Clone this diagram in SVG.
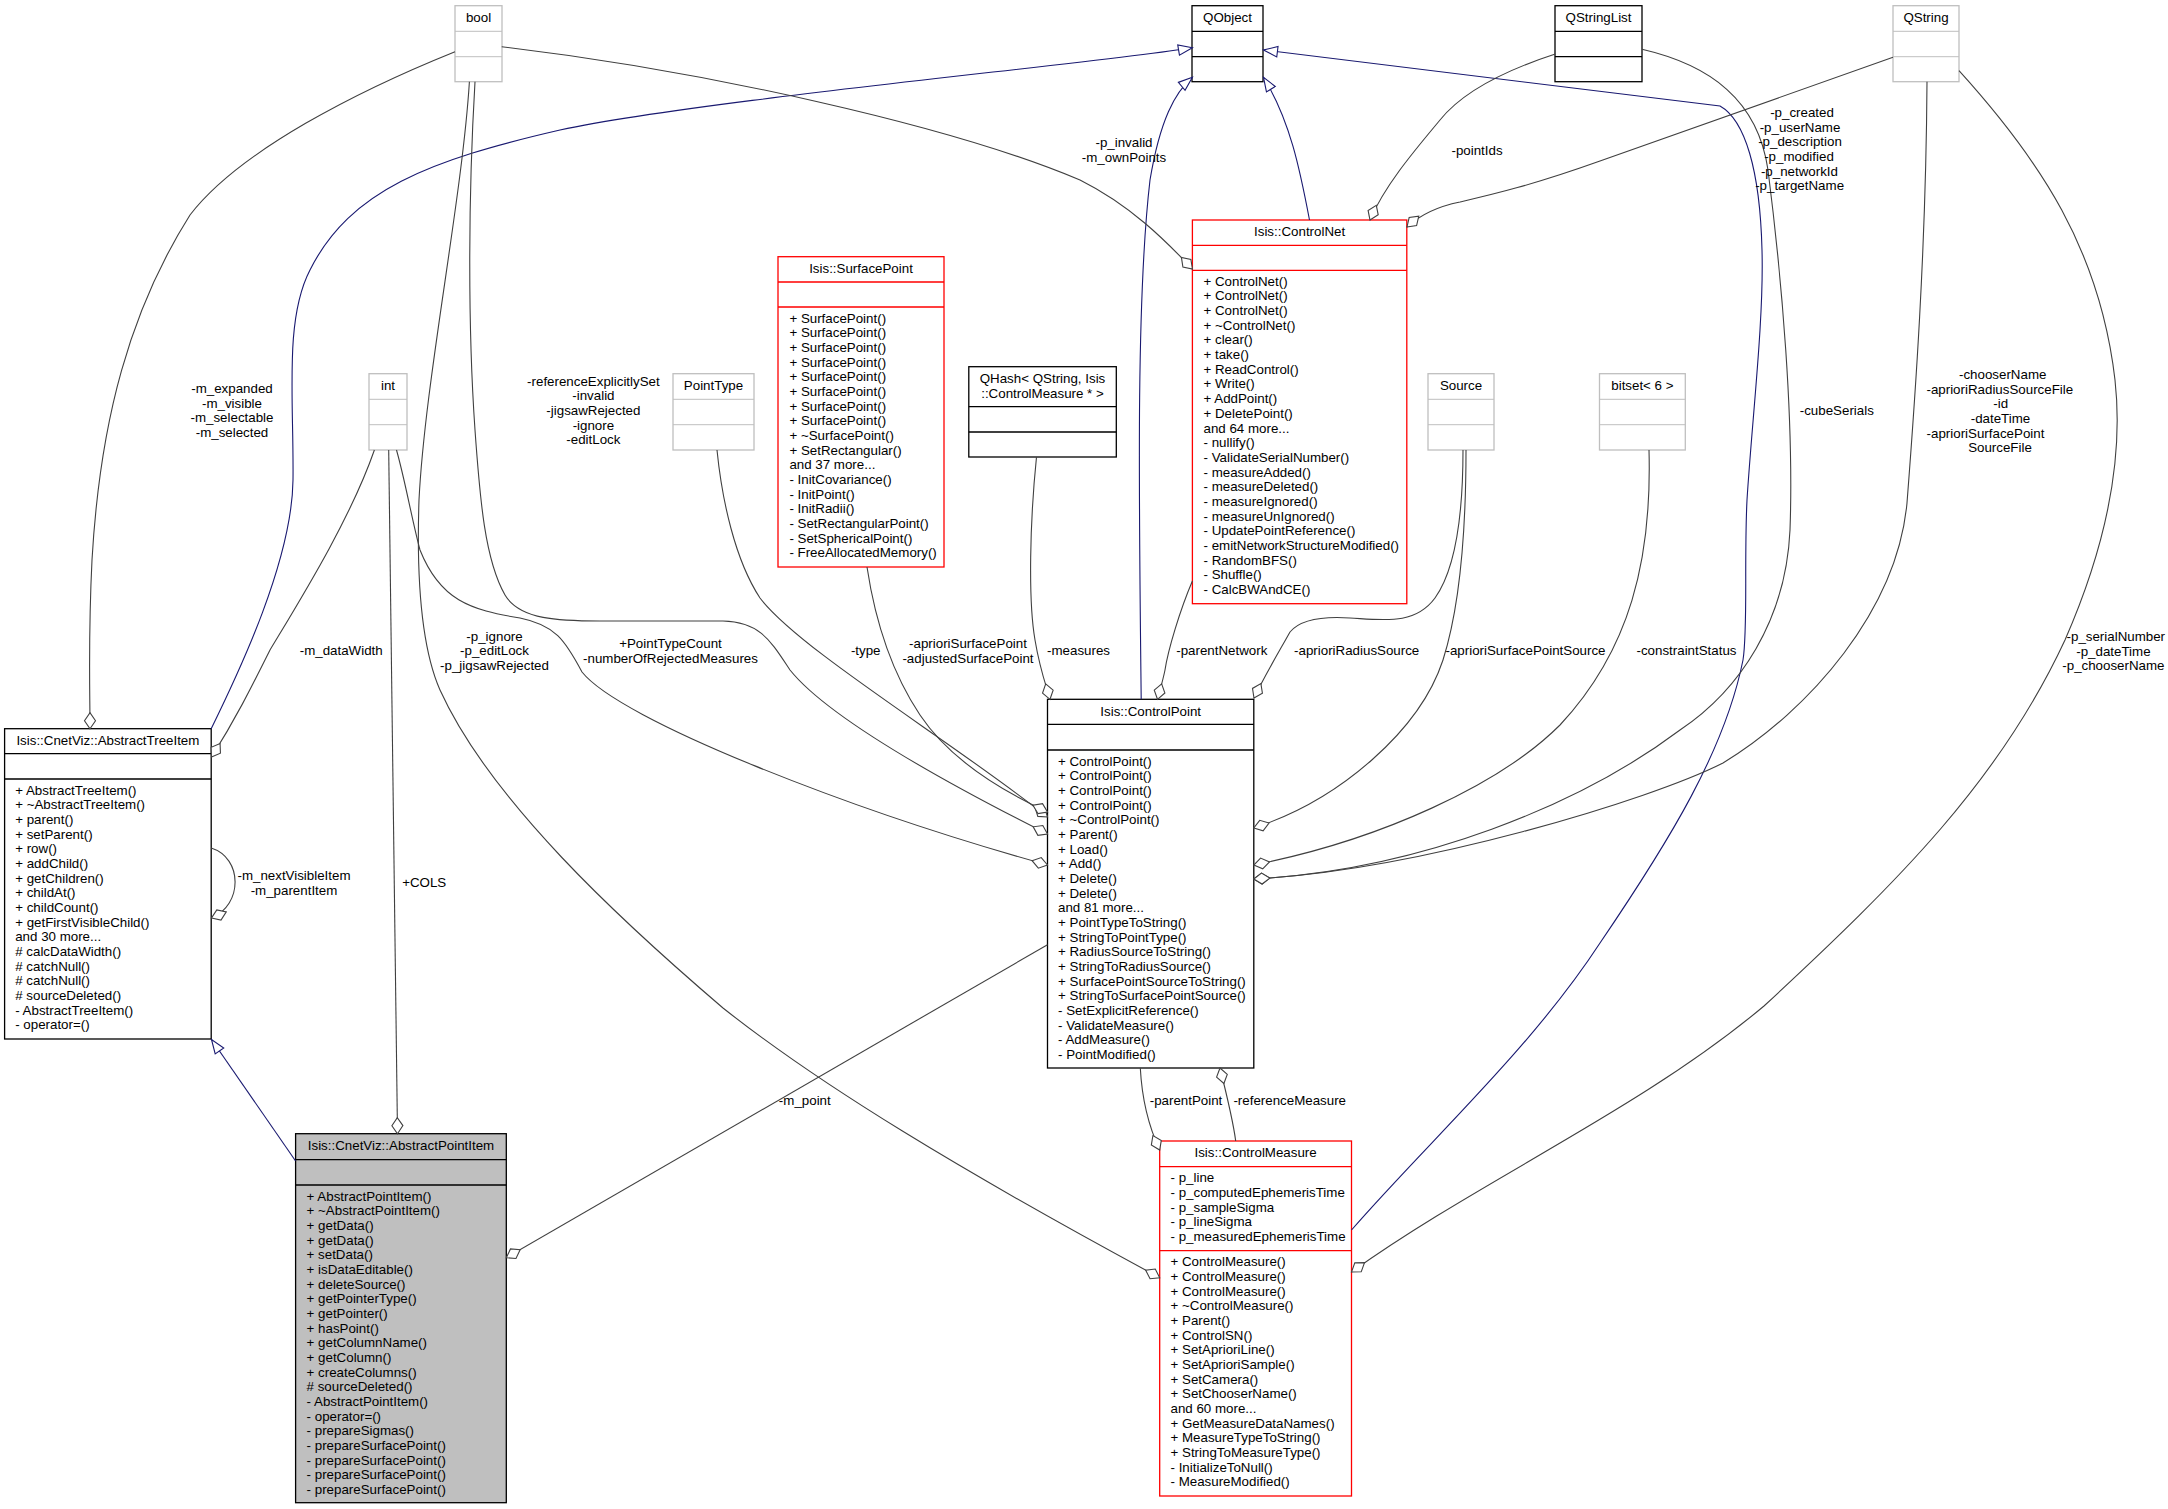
<svg xmlns="http://www.w3.org/2000/svg" width="2168" height="1509" viewBox="0 0 2168 1509">
<defs>
<style>
text{font-family:"Liberation Sans",Arial,Helvetica,sans-serif;font-size:13.33px;fill:#000}
.c{text-anchor:middle}
.box{fill:#fff;stroke-width:1.3}
.blk{stroke:#000}
.red{stroke:#ff0000}
.gry{stroke:#bfbfbf}
.hl{fill:#bfbfbf}
.e{fill:none;stroke:#404040;stroke-width:1.1;marker-end:url(#dia)}
.i{fill:none;stroke:#191970;stroke-width:1.1;marker-end:url(#tri)}
</style>
<marker id="dia" markerUnits="userSpaceOnUse" viewBox="0 0 20 14" markerWidth="20" markerHeight="14" refX="17" refY="7" orient="auto"><path d="M17,7 L9,1.5 L1,7 L9,12.5 Z" fill="#fff" stroke="#404040" stroke-width="1.1"/></marker>
<marker id="tri" markerUnits="userSpaceOnUse" viewBox="0 0 18 14" markerWidth="18" markerHeight="14" refX="15" refY="7" orient="auto"><path d="M15,7 L1,1.8 L1,12.2 Z" fill="#fff" stroke="#191970" stroke-width="1.1"/></marker>
</defs>
<rect width="2168" height="1509" fill="#fff"/>

<g id="nodes">
<g id="n_bool"><rect class="box gry" x="455" y="5.7" width="47" height="76"/><path class="gry" d="M455,31.3H502M455,56.7H502"/><text class="c" x="478.5" y="22">bool</text></g>
<g id="n_QObject"><rect class="box blk" x="1192" y="5.7" width="71" height="76"/><path class="blk" stroke-width="1.3" d="M1192,31.3H1263M1192,56.7H1263"/><text class="c" x="1227.5" y="22">QObject</text></g>
<g id="n_QStringList"><rect class="box blk" x="1555" y="5.7" width="87" height="76"/><path class="blk" stroke-width="1.3" d="M1555,31.3H1642M1555,56.7H1642"/><text class="c" x="1598.5" y="22">QStringList</text></g>
<g id="n_QString"><rect class="box gry" x="1893" y="5.7" width="66" height="76"/><path class="gry" d="M1893,31.3H1959M1893,56.7H1959"/><text class="c" x="1926" y="22">QString</text></g>
<g id="n_int"><rect class="box gry" x="369" y="373.7" width="38" height="76.3"/><path class="gry" d="M369,399.3H407M369,424.7H407"/><text class="c" x="388" y="390">int</text></g>
<g id="n_PointType"><rect class="box gry" x="673" y="373.7" width="81" height="76.3"/><path class="gry" d="M673,399.3H754M673,424.7H754"/><text class="c" x="713.5" y="390">PointType</text></g>
<g id="n_Source"><rect class="box gry" x="1428" y="373.7" width="66" height="76.3"/><path class="gry" d="M1428,399.3H1494M1428,424.7H1494"/><text class="c" x="1461" y="390">Source</text></g>
<g id="n_bitset"><rect class="box gry" x="1599.5" y="373.7" width="85.8" height="76.3"/><path class="gry" d="M1599.5,399.3H1685.3M1599.5,424.7H1685.3"/><text class="c" x="1642.4" y="390">bitset&lt; 6 &gt;</text></g>
<g id="n_QHash"><rect class="box blk" x="968.8" y="366.7" width="147.5" height="90.3"/><path class="blk" stroke-width="1.3" d="M968.8,406.7H1116.3M968.8,432H1116.3"/><text class="c" x="1042.5" y="382.8">QHash&lt; QString, Isis</text><text class="c" x="1042.5" y="397.5">::ControlMeasure * &gt;</text></g>

<g id="n_SurfacePoint"><rect class="box red" x="778" y="256.7" width="166" height="310.3"/><path class="red" stroke-width="1.3" d="M778,282H944M778,307H944"/><text class="c" x="861" y="273">Isis::SurfacePoint</text>
<text x="789.4" y="322.5"><tspan x="789.4">+ SurfacePoint()</tspan><tspan x="789.4" dy="14.67">+ SurfacePoint()</tspan><tspan x="789.4" dy="14.67">+ SurfacePoint()</tspan><tspan x="789.4" dy="14.67">+ SurfacePoint()</tspan><tspan x="789.4" dy="14.67">+ SurfacePoint()</tspan><tspan x="789.4" dy="14.67">+ SurfacePoint()</tspan><tspan x="789.4" dy="14.67">+ SurfacePoint()</tspan><tspan x="789.4" dy="14.67">+ SurfacePoint()</tspan><tspan x="789.4" dy="14.67">+ ~SurfacePoint()</tspan><tspan x="789.4" dy="14.67">+ SetRectangular()</tspan><tspan x="789.4" dy="14.67">and 37 more...</tspan><tspan x="789.4" dy="14.67">- InitCovariance()</tspan><tspan x="789.4" dy="14.67">- InitPoint()</tspan><tspan x="789.4" dy="14.67">- InitRadii()</tspan><tspan x="789.4" dy="14.67">- SetRectangularPoint()</tspan><tspan x="789.4" dy="14.67">- SetSphericalPoint()</tspan><tspan x="789.4" dy="14.67">- FreeAllocatedMemory()</tspan></text></g>

<g id="n_ControlNet"><rect class="box red" x="1192.4" y="220" width="214.4" height="383.7"/><path class="red" stroke-width="1.3" d="M1192.4,245.3H1406.8M1192.4,270.3H1406.8"/><text class="c" x="1299.6" y="236.3">Isis::ControlNet</text>
<text x="1203.5" y="285.8"><tspan x="1203.5">+ ControlNet()</tspan><tspan x="1203.5" dy="14.67">+ ControlNet()</tspan><tspan x="1203.5" dy="14.67">+ ControlNet()</tspan><tspan x="1203.5" dy="14.67">+ ~ControlNet()</tspan><tspan x="1203.5" dy="14.67">+ clear()</tspan><tspan x="1203.5" dy="14.67">+ take()</tspan><tspan x="1203.5" dy="14.67">+ ReadControl()</tspan><tspan x="1203.5" dy="14.67">+ Write()</tspan><tspan x="1203.5" dy="14.67">+ AddPoint()</tspan><tspan x="1203.5" dy="14.67">+ DeletePoint()</tspan><tspan x="1203.5" dy="14.67">and 64 more...</tspan><tspan x="1203.5" dy="14.67">- nullify()</tspan><tspan x="1203.5" dy="14.67">- ValidateSerialNumber()</tspan><tspan x="1203.5" dy="14.67">- measureAdded()</tspan><tspan x="1203.5" dy="14.67">- measureDeleted()</tspan><tspan x="1203.5" dy="14.67">- measureIgnored()</tspan><tspan x="1203.5" dy="14.67">- measureUnIgnored()</tspan><tspan x="1203.5" dy="14.67">- UpdatePointReference()</tspan><tspan x="1203.5" dy="14.67">- emitNetworkStructureModified()</tspan><tspan x="1203.5" dy="14.67">- RandomBFS()</tspan><tspan x="1203.5" dy="14.67">- Shuffle()</tspan><tspan x="1203.5" dy="14.67">- CalcBWAndCE()</tspan></text></g>

<g id="n_ControlPoint"><rect class="box blk" x="1047.5" y="699.3" width="206.3" height="368.7"/><path class="blk" stroke-width="1.3" d="M1047.5,724.3H1253.8M1047.5,750H1253.8"/><text class="c" x="1150.7" y="715.6">Isis::ControlPoint</text>
<text x="1058" y="765.5"><tspan x="1058">+ ControlPoint()</tspan><tspan x="1058" dy="14.67">+ ControlPoint()</tspan><tspan x="1058" dy="14.67">+ ControlPoint()</tspan><tspan x="1058" dy="14.67">+ ControlPoint()</tspan><tspan x="1058" dy="14.67">+ ~ControlPoint()</tspan><tspan x="1058" dy="14.67">+ Parent()</tspan><tspan x="1058" dy="14.67">+ Load()</tspan><tspan x="1058" dy="14.67">+ Add()</tspan><tspan x="1058" dy="14.67">+ Delete()</tspan><tspan x="1058" dy="14.67">+ Delete()</tspan><tspan x="1058" dy="14.67">and 81 more...</tspan><tspan x="1058" dy="14.67">+ PointTypeToString()</tspan><tspan x="1058" dy="14.67">+ StringToPointType()</tspan><tspan x="1058" dy="14.67">+ RadiusSourceToString()</tspan><tspan x="1058" dy="14.67">+ StringToRadiusSource()</tspan><tspan x="1058" dy="14.67">+ SurfacePointSourceToString()</tspan><tspan x="1058" dy="14.67">+ StringToSurfacePointSource()</tspan><tspan x="1058" dy="14.67">- SetExplicitReference()</tspan><tspan x="1058" dy="14.67">- ValidateMeasure()</tspan><tspan x="1058" dy="14.67">- AddMeasure()</tspan><tspan x="1058" dy="14.67">- PointModified()</tspan></text></g>

<g id="n_ControlMeasure"><rect class="box red" x="1159.7" y="1141" width="191.8" height="355"/><path class="red" stroke-width="1.3" d="M1159.7,1166.7H1351.5M1159.7,1250.7H1351.5"/><text class="c" x="1255.6" y="1157.3">Isis::ControlMeasure</text>
<text x="1170.5" y="1182.2"><tspan x="1170.5">- p_line</tspan><tspan x="1170.5" dy="14.67">- p_computedEphemerisTime</tspan><tspan x="1170.5" dy="14.67">- p_sampleSigma</tspan><tspan x="1170.5" dy="14.67">- p_lineSigma</tspan><tspan x="1170.5" dy="14.67">- p_measuredEphemerisTime</tspan></text>
<text x="1170.5" y="1266.2"><tspan x="1170.5">+ ControlMeasure()</tspan><tspan x="1170.5" dy="14.67">+ ControlMeasure()</tspan><tspan x="1170.5" dy="14.67">+ ControlMeasure()</tspan><tspan x="1170.5" dy="14.67">+ ~ControlMeasure()</tspan><tspan x="1170.5" dy="14.67">+ Parent()</tspan><tspan x="1170.5" dy="14.67">+ ControlSN()</tspan><tspan x="1170.5" dy="14.67">+ SetAprioriLine()</tspan><tspan x="1170.5" dy="14.67">+ SetAprioriSample()</tspan><tspan x="1170.5" dy="14.67">+ SetCamera()</tspan><tspan x="1170.5" dy="14.67">+ SetChooserName()</tspan><tspan x="1170.5" dy="14.67">and 60 more...</tspan><tspan x="1170.5" dy="14.67">+ GetMeasureDataNames()</tspan><tspan x="1170.5" dy="14.67">+ MeasureTypeToString()</tspan><tspan x="1170.5" dy="14.67">+ StringToMeasureType()</tspan><tspan x="1170.5" dy="14.67">- InitializeToNull()</tspan><tspan x="1170.5" dy="14.67">- MeasureModified()</tspan></text></g>

<g id="n_AbstractTreeItem"><rect class="box blk" x="4.6" y="728.7" width="206.6" height="310.3"/><path class="blk" stroke-width="1.3" d="M4.6,753.7H211.2M4.6,779H211.2"/><text class="c" x="107.9" y="745">Isis::CnetViz::AbstractTreeItem</text>
<text x="15.2" y="794.5"><tspan x="15.2">+ AbstractTreeItem()</tspan><tspan x="15.2" dy="14.67">+ ~AbstractTreeItem()</tspan><tspan x="15.2" dy="14.67">+ parent()</tspan><tspan x="15.2" dy="14.67">+ setParent()</tspan><tspan x="15.2" dy="14.67">+ row()</tspan><tspan x="15.2" dy="14.67">+ addChild()</tspan><tspan x="15.2" dy="14.67">+ getChildren()</tspan><tspan x="15.2" dy="14.67">+ childAt()</tspan><tspan x="15.2" dy="14.67">+ childCount()</tspan><tspan x="15.2" dy="14.67">+ getFirstVisibleChild()</tspan><tspan x="15.2" dy="14.67">and 30 more...</tspan><tspan x="15.2" dy="14.67"># calcDataWidth()</tspan><tspan x="15.2" dy="14.67"># catchNull()</tspan><tspan x="15.2" dy="14.67"># catchNull()</tspan><tspan x="15.2" dy="14.67"># sourceDeleted()</tspan><tspan x="15.2" dy="14.67">- AbstractTreeItem()</tspan><tspan x="15.2" dy="14.67">- operator=()</tspan></text></g>

<g id="n_AbstractPointItem"><rect class="box blk hl" x="295.6" y="1133.7" width="210.7" height="369"/><path class="blk" stroke-width="1.3" d="M295.6,1159.7H506.3M295.6,1185H506.3"/><text class="c" x="401" y="1150">Isis::CnetViz::AbstractPointItem</text>
<text x="306.6" y="1200.5"><tspan x="306.6">+ AbstractPointItem()</tspan><tspan x="306.6" dy="14.67">+ ~AbstractPointItem()</tspan><tspan x="306.6" dy="14.67">+ getData()</tspan><tspan x="306.6" dy="14.67">+ getData()</tspan><tspan x="306.6" dy="14.67">+ setData()</tspan><tspan x="306.6" dy="14.67">+ isDataEditable()</tspan><tspan x="306.6" dy="14.67">+ deleteSource()</tspan><tspan x="306.6" dy="14.67">+ getPointerType()</tspan><tspan x="306.6" dy="14.67">+ getPointer()</tspan><tspan x="306.6" dy="14.67">+ hasPoint()</tspan><tspan x="306.6" dy="14.67">+ getColumnName()</tspan><tspan x="306.6" dy="14.67">+ getColumn()</tspan><tspan x="306.6" dy="14.67">+ createColumns()</tspan><tspan x="306.6" dy="14.67"># sourceDeleted()</tspan><tspan x="306.6" dy="14.67">- AbstractPointItem()</tspan><tspan x="306.6" dy="14.67">- operator=()</tspan><tspan x="306.6" dy="14.67">- prepareSigmas()</tspan><tspan x="306.6" dy="14.67">- prepareSurfacePoint()</tspan><tspan x="306.6" dy="14.67">- prepareSurfacePoint()</tspan><tspan x="306.6" dy="14.67">- prepareSurfacePoint()</tspan><tspan x="306.6" dy="14.67">- prepareSurfacePoint()</tspan></text></g>
</g>

<g id="edges">
<path class="i" d="M211.2,728.7 C240,670 292,560 293,480 C294,400 284,320 310,270 C350,190 430,160 560,130 C700,100 1100,63 1192.4,47.7"/>
<path class="i" d="M1141.2,699.3 C1139,500 1136,300 1150,180 C1160,120 1175,92 1192.4,77.3"/>
<path class="i" d="M1309.5,220 C1300,170 1290,120 1263.5,77.3"/>
<path class="i" d="M1351.5,1230 C1430,1140 1530,1050 1600,943 C1670,840 1725,750 1743,660 C1748,630 1744,560 1747,500 C1752,420 1764,320 1762,250 C1760,170 1745,120 1720,106 L1263.5,50"/>
<path class="i" d="M295.6,1161 L211.5,1039.5"/>

<path class="e" d="M455,51.7 C360,90 240,150 190,215 C130,310 100,420 92,560 C88,640 90,690 90,728.7"/>
<path class="e" d="M501.7,46.7 C700,70 950,125 1080,180 C1130,205 1165,240 1192.4,269"/>
<path class="e" d="M475,81.7 C468,200 468,330 475,430 C480,500 485,560 505,595 C520,620 560,621 600,621 L723,621 C760,622 770,640 790,670 C830,720 960,790 1047.5,834"/>
<path class="e" d="M469.4,81.7 C462,200 425,380 419,500 C417,560 418,640 440,690 C490,800 620,920 723,1008 C820,1085 960,1170 1159.7,1277.7"/>
<path class="e" d="M374.4,450 C350,520 300,600 270,650 C250,690 235,720 211.5,757"/>
<path class="e" d="M388.7,450 L397.5,1133.7"/>
<path class="e" d="M396.5,450 C405,480 412,520 420,550 C440,600 470,610 520,618 C555,625 565,640 582,672 C620,720 850,810 1047.5,865"/>
<path class="e" d="M717,450 C722,500 735,560 760,598 C800,650 950,740 1047.5,817"/>
<path class="e" d="M867,567 C875,620 890,670 920,715 C950,760 1000,790 1047.5,812"/>
<path class="e" d="M1036.5,457 C1030,520 1028,600 1035,640 C1040,670 1046,685 1050,699.3"/>
<path class="e" d="M1192.4,581 C1180,610 1168,650 1165,670 C1163,680 1160,690 1157.5,699.3"/>
<path class="e" d="M1555.3,54 C1500,72 1460,95 1440,120 C1415,150 1385,185 1370,220"/>
<path class="e" d="M1893,57.3 L1600,161 C1530,186 1490,195 1460,202 C1435,207 1420,215 1407,227"/>
<path class="e" d="M1463,450 C1463,520 1455,570 1435,598 C1415,625 1385,620 1350,618 C1320,616 1300,620 1290,632 C1280,650 1265,675 1254,698"/>
<path class="e" d="M1466,450 C1466,520 1462,600 1443,660 C1420,730 1340,800 1253.8,828"/>
<path class="e" d="M1649,450 C1652,560 1630,650 1560,725 C1500,785 1380,840 1253.8,865"/>
<path class="e" d="M1642,49.3 C1710,65 1758,100 1768,170 C1782,280 1794,420 1790,530 C1786,620 1740,690 1680,730 C1580,805 1420,870 1253.8,879"/>
<path class="e" d="M1927,81.7 C1926,250 1915,400 1907,503 C1897,610 1810,710 1723,763 C1650,800 1420,870 1253.8,879"/>
<path class="e" d="M1959,70.7 C2040,160 2100,250 2115,380 C2125,470 2100,560 2065,640 C2000,780 1900,880 1764,1006 C1640,1110 1480,1180 1351.5,1272"/>
<path class="e" d="M1140.3,1068 C1142,1100 1148,1125 1159.7,1150"/>
<path class="e" d="M1235.7,1141 C1233,1120 1228,1100 1220,1068"/>
<path class="e" d="M1047.5,944.7 L506.3,1257.7"/>
<path class="e" d="M211.2,848 C243,858 243,905 211.5,918"/>

<g id="edge-labels">
<text class="c" x="232" y="393"><tspan x="232">-m_expanded</tspan><tspan x="232" dy="14.67">-m_visible</tspan><tspan x="232" dy="14.67">-m_selectable</tspan><tspan x="232" dy="14.67">-m_selected</tspan></text>
<text class="c" x="1124" y="147"><tspan x="1124">-p_invalid</tspan><tspan x="1124" dy="14.67">-m_ownPoints</tspan></text>
<text class="c" x="593.4" y="385.5"><tspan x="593.4">-referenceExplicitlySet</tspan><tspan x="593.4" dy="14.67">-invalid</tspan><tspan x="593.4" dy="14.67">-jigsawRejected</tspan><tspan x="593.4" dy="14.67">-ignore</tspan><tspan x="593.4" dy="14.67">-editLock</tspan></text>
<text class="c" x="494.5" y="640.8"><tspan x="494.5">-p_ignore</tspan><tspan x="494.5" dy="14.67">-p_editLock</tspan><tspan x="494.5" dy="14.67">-p_jigsawRejected</tspan></text>
<text class="c" x="341.2" y="655">-m_dataWidth</text>
<text class="c" x="424.2" y="887">+COLS</text>
<text class="c" x="670.5" y="648"><tspan x="670.5">+PointTypeCount</tspan><tspan x="670.5" dy="14.67">-numberOfRejectedMeasures</tspan></text>
<text class="c" x="294" y="880"><tspan x="294">-m_nextVisibleItem</tspan><tspan x="294" dy="14.67">-m_parentItem</tspan></text>
<text class="c" x="865.7" y="655">-type</text>
<text class="c" x="968" y="648"><tspan x="968">-aprioriSurfacePoint</tspan><tspan x="968" dy="14.67">-adjustedSurfacePoint</tspan></text>
<text class="c" x="1078.5" y="655">-measures</text>
<text class="c" x="1221.8" y="655">-parentNetwork</text>
<text class="c" x="1356.7" y="655">-aprioriRadiusSource</text>
<text class="c" x="1525.5" y="655">-aprioriSurfacePointSource</text>
<text class="c" x="1686.5" y="655">-constraintStatus</text>
<text class="c" x="1477" y="154.5">-pointIds</text>
<text class="c" x="1800" y="117"><tspan x="1802">-p_created</tspan><tspan x="1800" dy="14.67">-p_userName</tspan><tspan x="1800" dy="14.67">-p_description</tspan><tspan x="1799" dy="14.67">-p_modified</tspan><tspan x="1799.4" dy="14.67">-p_networkId</tspan><tspan x="1799.6" dy="14.67">-p_targetName</tspan></text>
<text class="c" x="1836.8" y="415">-cubeSerials</text>
<text class="c" x="2000" y="379"><tspan x="2002.7">-chooserName</tspan><tspan x="1999.8" dy="14.67">-aprioriRadiusSourceFile</tspan><tspan x="2000.7" dy="14.67">-id</tspan><tspan x="2000.5" dy="14.67">-dateTime</tspan><tspan x="1985.5" dy="14.67">-aprioriSurfacePoint</tspan><tspan x="2000" dy="14.67">SourceFile</tspan></text>
<text class="c" x="2114" y="641"><tspan x="2115.8">-p_serialNumber</tspan><tspan x="2113.4" dy="14.67">-p_dateTime</tspan><tspan x="2113.4" dy="14.67">-p_chooserName</tspan></text>
<text class="c" x="1186" y="1105">-parentPoint</text>
<text class="c" x="1289.7" y="1105">-referenceMeasure</text>
<text class="c" x="804.8" y="1105">-m_point</text>
</g>
</g>
</svg>
